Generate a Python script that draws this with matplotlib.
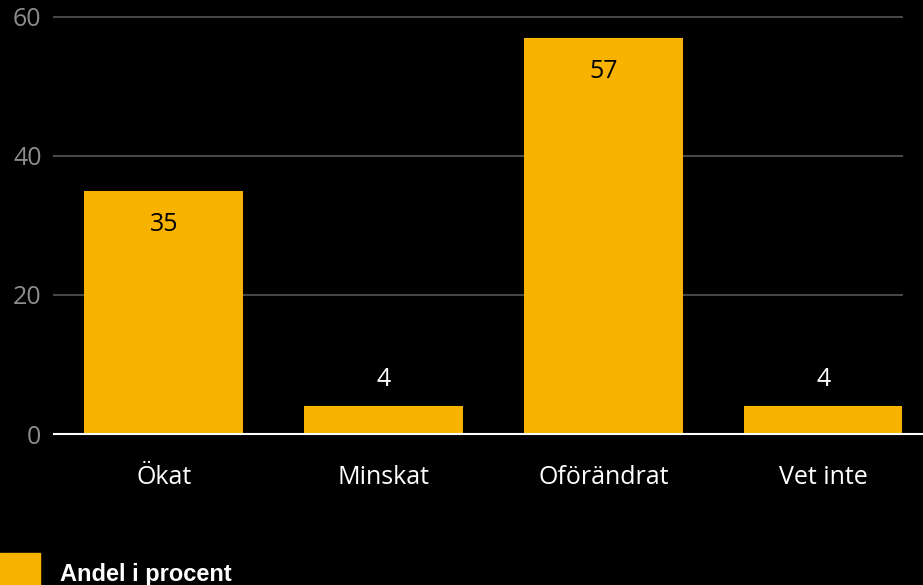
import numpy as np
import matplotlib.pyplot as plt

categories = ["Ökat", "Minskat", "Oförändrat", "Vet inte"]
values = [35, 4, 57, 4]
yticks = [0, 20, 40, 60]
legend_label = "Andel i procent"

bar_color = "#f8b200"
grid_color = "#4a4644"
tick_color = "#8c8c8c"

plt.rcParams['font.family'] = ['Open Sans', 'DejaVu Sans']

fig = plt.figure(figsize=(9.23, 5.85), dpi=100, facecolor="black")
ax = fig.add_axes([54/923, 151/585, (902-54)/923, (434-17)/585])
ax.set_facecolor("black")

x = np.arange(len(categories))
ax.bar(x, values, width=0.723, color=bar_color, zorder=2)

ax.set_xlim(-0.5, 3.357)
ax.set_ylim(0, 60)
ax.set_yticks(yticks)
ax.set_yticklabels([str(t) for t in yticks])
for t in yticks[1:]:
    ax.axhline(t, color=grid_color, lw=1.5, zorder=1, clip_on=False)
ax.axhline(0, xmin=0, xmax=(923-54)/(902-54), color="white", lw=1.5,
           zorder=3, clip_on=False)

ax.set_xticks(x)
ax.set_xticklabels(categories, color="white", fontsize=18)
ax.tick_params(axis="x", length=0, pad=22)
ax.tick_params(axis="y", length=0, pad=9, labelcolor=tick_color, labelsize=18)
for s in ax.spines.values():
    s.set_visible(False)

for xi, v in zip(x, values):
    if v > 10:
        ax.annotate(str(v), (xi, v), xytext=(0, -24), textcoords="offset points",
                    ha="center", va="center", color="black", fontsize=18)
    else:
        ax.annotate(str(v), (xi, v), xytext=(0, 19), textcoords="offset points",
                    ha="center", va="center", color="white", fontsize=18)

# legend
fig.patches.append(plt.Rectangle((0, 0), 40/923, 32/585, transform=fig.transFigure,
                                 color=bar_color))
fig.text(60/923, 11/585, legend_label, color="white", fontsize=17,
         fontweight="bold", family=["Liberation Sans", "DejaVu Sans"],
         ha="left", va="center")

fig.savefig("out.png", facecolor="black")
